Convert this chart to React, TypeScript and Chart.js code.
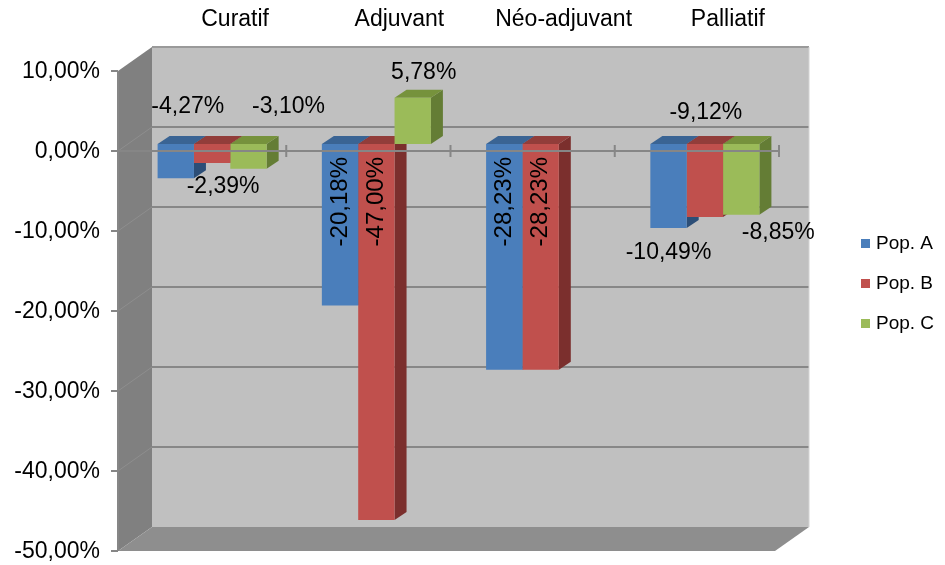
import React, { useEffect, useRef } from 'react';
import { Chart, registerables } from 'chart.js';

Chart.register(...registerables);

// ---- data ----
const categories = ['Curatif', 'Adjuvant', 'Néo-adjuvant', 'Palliatif'];
const seriesNames = ['Pop. A', 'Pop. B', 'Pop. C'];
const popA = [-4.27, -20.18, -28.23, -10.49];
const popB = [-2.39, -47.0, -28.23, -9.12];
const popC: (number | null)[] = [-3.1, 5.78, null, -8.85];
const yMin = -50;
const yMax = 10;
const yStep = 10;

// ---- label layout (placement per point, not data) ----
const labelModes = [
  ['above', 'inside', 'inside', 'below'],
  ['below', 'inside', 'inside', 'above'],
  ['above', 'above', 'none', 'below'],
];
const labelShift = [
  [[12, -37], [0, 13], [0, 13], [0, 25]],
  [[11, 24], [0, 13], [0, 13], [1, -31]],
  [[40, -37], [11, -25], [0, 0], [37, 18]],
];

// ---- style ----
const palette = [
  { front: '#4A7EBB', top: '#3A6494', side: '#2C4E77' },
  { front: '#C0504D', top: '#923D3A', side: '#7B2F2D' },
  { front: '#9BBB59', top: '#76923C', side: '#647D35' },
];
const FRONT = { dx: -12, dy: 7 };
const BACK = { dx: 22, dy: -17 };
const DEPTH = { dx: 12, dy: -8 };
const FONT = 'Liberation Sans, Arial, Helvetica, sans-serif';
const W = 945;
const H = 565;

const fmt = (v: number) => v.toFixed(2).replace('.', ',') + '%';

function poly(ctx: CanvasRenderingContext2D, pts: number[][], fill: string) {
  ctx.beginPath();
  ctx.moveTo(pts[0][0], pts[0][1]);
  for (let i = 1; i < pts.length; i++) ctx.lineTo(pts[i][0], pts[i][1]);
  ctx.closePath();
  ctx.fillStyle = fill;
  ctx.fill();
}

function line(ctx: CanvasRenderingContext2D, x1: number, y1: number, x2: number, y2: number, color: string, w: number) {
  ctx.beginPath();
  ctx.moveTo(x1, y1);
  ctx.lineTo(x2, y2);
  ctx.strokeStyle = color;
  ctx.lineWidth = w;
  ctx.stroke();
}

const scene3d = {
  id: 'scene3d',
  beforeDraw(chart: any) {
    const { ctx, chartArea: a } = chart;
    const y = chart.scales.y;
    const pTop = y.getPixelForValue(y.max);
    const pBot = y.getPixelForValue(y.min);
    const fl = a.left + FRONT.dx;
    const fr = a.right + FRONT.dx;
    const bl = a.left + BACK.dx;
    const br = a.right + BACK.dx;
    ctx.save();
    ctx.fillStyle = '#C0C0C0';
    ctx.fillRect(bl, pTop + BACK.dy, br - bl, pBot - pTop);
    poly(ctx, [[fl, pTop + FRONT.dy], [bl, pTop + BACK.dy], [bl, pBot + BACK.dy], [fl, pBot + FRONT.dy]], '#808080');
    poly(ctx, [[fl, pBot + FRONT.dy], [fr, pBot + FRONT.dy], [br, pBot + BACK.dy], [bl, pBot + BACK.dy]], '#8E8E8E');
    y.ticks.forEach((t: any) => {
      const p = y.getPixelForValue(t.value);
      if (t.value > y.min && t.value < y.max) {
        line(ctx, bl, p + BACK.dy, br, p + BACK.dy, '#878787', 2);
        line(ctx, fl, p + FRONT.dy, bl, p + BACK.dy, '#8E8E8E', 1);
      }
    });
    line(ctx, bl, pTop + BACK.dy, br, pTop + BACK.dy, '#9A9A9A', 2);
    line(ctx, br, pTop + BACK.dy, br, pBot + BACK.dy, '#D4D4D4', 1);
    line(ctx, fl, pTop + FRONT.dy, fl, pBot + FRONT.dy, '#868686', 2);
    y.ticks.forEach((t: any) => {
      const p = y.getPixelForValue(t.value) + FRONT.dy;
      line(ctx, fl - 7, p, fl, p, '#868686', 2);
    });
    ctx.restore();
  },
  beforeDatasetsDraw(chart: any) {
    const { ctx } = chart;
    ctx.save();
    const metas = chart.data.datasets.map((_: any, i: number) => chart.getDatasetMeta(i));
    metas.forEach((meta: any, di: number) => {
      meta.data.forEach((el: any, i: number) => {
        const v = chart.data.datasets[di].data[i];
        if (v === null || v === undefined) return;
        const r = el.x + el.width / 2;
        const top = Math.min(el.y, el.base);
        const bot = Math.max(el.y, el.base);
        poly(ctx, [[r, top], [r + DEPTH.dx, top + DEPTH.dy], [r + DEPTH.dx, bot + DEPTH.dy], [r, bot]], palette[di].side);
      });
    });
    metas.forEach((meta: any, di: number) => {
      meta.data.forEach((el: any, i: number) => {
        const v = chart.data.datasets[di].data[i];
        if (v === null || v === undefined) return;
        const l = el.x - el.width / 2;
        const r = el.x + el.width / 2;
        const top = Math.min(el.y, el.base);
        poly(ctx, [[l, top], [l + DEPTH.dx, top + DEPTH.dy], [r + DEPTH.dx, top + DEPTH.dy], [r, top]], palette[di].top);
      });
    });
    ctx.restore();
  },
  afterDatasetsDraw(chart: any) {
    const { ctx, chartArea: a } = chart;
    const y = chart.scales.y;
    ctx.save();
    const p0 = y.getPixelForValue(0) + FRONT.dy;
    line(ctx, a.left + FRONT.dx, p0, a.right + FRONT.dx + 3, p0, '#868686', 2);
    const w = (a.right - a.left) / categories.length;
    for (let k = 1; k <= categories.length; k++) {
      const x = a.left + k * w - 8;
      line(ctx, x, p0 - 6, x, p0 + 6, '#868686', 2);
    }
    ctx.fillStyle = '#000';
    chart.data.datasets.forEach((ds: any, di: number) => {
      const meta = chart.getDatasetMeta(di);
      meta.data.forEach((el: any, i: number) => {
        const v = ds.data[i];
        const mode = labelModes[di][i];
        if (v === null || v === undefined || mode === 'none') return;
        const [dx, dy] = labelShift[di][i];
        const top = Math.min(el.y, el.base);
        const bot = Math.max(el.y, el.base);
        const txt = fmt(v);
        if (mode === 'inside') {
          ctx.save();
          ctx.font = `24px ${FONT}`;
          ctx.translate(el.x + dx, top + dy);
          ctx.rotate(-Math.PI / 2);
          ctx.textAlign = 'right';
          ctx.textBaseline = 'middle';
          ctx.fillText(txt, 0, 0);
          ctx.restore();
        } else {
          ctx.font = `23px ${FONT}`;
          ctx.textAlign = 'center';
          ctx.textBaseline = 'middle';
          const ref = mode === 'above' ? top : bot;
          ctx.fillText(txt, el.x + dx, ref + dy);
        }
      });
    });
    const midY = (a.top + a.bottom) / 2;
    ctx.font = `19px ${FONT}`;
    ctx.textAlign = 'left';
    ctx.textBaseline = 'middle';
    chart.data.datasets.forEach((ds: any, di: number) => {
      const cy = midY - 60 + di * 40;
      const x0 = a.right + 74;
      ctx.fillStyle = ds.backgroundColor;
      ctx.fillRect(x0, cy - 5, 9, 9);
      ctx.fillStyle = '#000';
      ctx.fillText(ds.label, x0 + 15, cy);
    });
    ctx.restore();
  },
};

export default function App() {
  const canvasRef = useRef<HTMLCanvasElement | null>(null);

  useEffect(() => {
    if (!canvasRef.current) return;
    const datasets = [popA, popB, popC].map((d, i) => ({
      label: seriesNames[i],
      data: d,
      backgroundColor: palette[i].front,
      borderWidth: 0,
      categoryPercentage: 0.664,
      barPercentage: 1,
    }));
    const chart = new Chart(canvasRef.current, {
      type: 'bar',
      data: { labels: categories, datasets },
      plugins: [scene3d],
      options: {
        animation: false,
        responsive: false,
        maintainAspectRatio: false,
        devicePixelRatio: 1,
        layout: { padding: { left: 0, right: 158, top: 0, bottom: 21 } },
        plugins: {
          legend: { display: false },
          tooltip: { enabled: false },
        },
        scales: {
          x: {
            type: 'category',
            position: 'top',
            grid: { display: false, drawTicks: false },
            border: { display: false },
            ticks: {
              color: '#000',
              font: { family: FONT, size: 23 },
              padding: 31,
              labelOffset: 23,
              maxRotation: 0,
            },
            afterFit: (s: any) => {
              s.height = 64;
              s.paddingLeft = 0;
              s.paddingRight = 0;
            },
          },
          y: {
            min: yMin,
            max: yMax,
            grid: { display: false, drawTicks: false },
            border: { display: false },
            ticks: {
              stepSize: yStep,
              color: '#000',
              font: { family: FONT, size: 23 },
              padding: 30,
              labelOffset: 8,
              callback: (v: any) => fmt(Number(v)),
            },
            afterFit: (s: any) => {
              s.width = 130;
              s.paddingTop = 0;
              s.paddingBottom = 0;
            },
          },
        },
      } as any,
    });
    return () => chart.destroy();
  }, []);

  return (
    <div style={{ position: 'fixed', left: 0, top: 0, width: W, height: H, background: '#fff' }}>
      <canvas ref={canvasRef} width={W} height={H} style={{ display: 'block', width: W, height: H }} />
    </div>
  );
}
